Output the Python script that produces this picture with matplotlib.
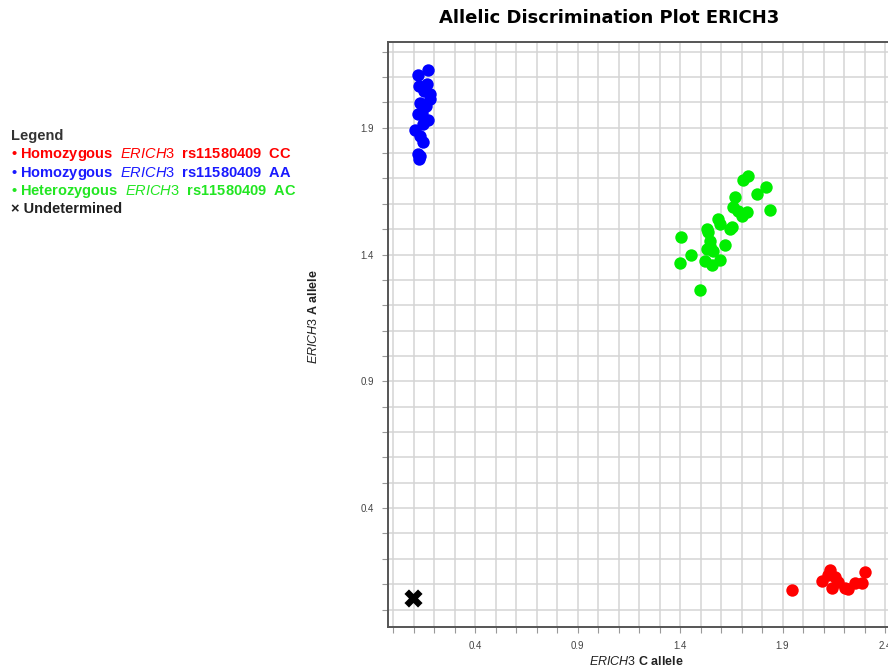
import matplotlib
matplotlib.use("Agg")
import matplotlib.pyplot as plt
from matplotlib.ticker import FixedLocator, MultipleLocator

plt.rcParams['font.family'] = ['Liberation Sans', 'DejaVu Sans']
plt.rcParams['mathtext.fontset'] = 'custom'
plt.rcParams['mathtext.rm'] = 'Liberation Sans'
plt.rcParams['mathtext.it'] = 'Liberation Sans:italic'
plt.rcParams['mathtext.bf'] = 'Liberation Sans:bold'

# genotype clusters (C allele, A allele)
cc_x = [1.945, 2.091, 2.132, 2.123, 2.140, 2.156, 2.172, 2.205, 2.221, 2.254, 2.286, 2.302]
cc_y = [0.077, 0.112, 0.156, 0.136, 0.086, 0.129, 0.109, 0.086, 0.080, 0.106, 0.103, 0.149]

aa_x = [0.169, 0.123, 0.164, 0.128, 0.180, 0.132, 0.161, 0.140, 0.169, 0.123, 0.145,
        0.107, 0.132, 0.148, 0.120, 0.128, 0.132, 0.180, 0.151]
aa_y = [2.128, 2.107, 2.072, 2.065, 2.013, 1.999, 1.986, 1.960, 1.930, 1.954, 1.914,
        1.892, 1.868, 1.842, 1.796, 1.776, 1.789, 2.033, 2.045]

ac_x = [1.733, 1.709, 1.820, 1.774, 1.668, 1.839, 1.660, 1.684, 1.725, 1.701, 1.587,
        1.595, 1.652, 1.644, 1.530, 1.538, 1.403, 1.546, 1.620, 1.530, 1.546, 1.452,
        1.562, 1.400, 1.522, 1.595, 1.555, 1.498]
ac_y = [1.711, 1.694, 1.667, 1.639, 1.625, 1.576, 1.586, 1.573, 1.566, 1.553, 1.540,
        1.520, 1.507, 1.501, 1.501, 1.487, 1.470, 1.455, 1.436, 1.422, 1.435, 1.400,
        1.415, 1.365, 1.376, 1.380, 1.360, 1.262]

und_x = [0.096]
und_y = [0.044]

major_ticks = [0.4, 0.9, 1.4, 1.9, 2.4]

legend_lines = [
    ("Legend", "#333333"),
    (r"• Homozygous  $\mathit{ERICH3}$  rs11580409  CC", "#ff0000"),
    (r"• Homozygous  $\mathit{ERICH3}$  rs11580409  AA", "#1a1aff"),
    (r"• Heterozygous  $\mathit{ERICH3}$  rs11580409  AC", "#22e622"),
    ("× Undetermined", "#222222"),
]

fig = plt.figure(figsize=(8.88, 6.72), dpi=100)
ax = fig.add_axes([0.4364, 0.0665, 0.5718, 0.8717])

ax.scatter(cc_x, cc_y, s=80, color="#ff0000", zorder=3, linewidths=0)
ax.scatter(aa_x, aa_y, s=80, color="#0000ff", zorder=3, linewidths=0)
ax.scatter(ac_x, ac_y, s=80, color="#00ee00", zorder=3, linewidths=0)
ax.scatter(und_x, und_y, s=170, marker="X", color="black", zorder=3, linewidths=0)

ax.set_xlim(-0.027, 2.45)
ax.set_ylim(-0.07, 2.24)

for axis in (ax.xaxis, ax.yaxis):
    axis.set_major_locator(FixedLocator(major_ticks))
    axis.set_minor_locator(MultipleLocator(0.1))
ax.set_xticklabels([str(t) for t in major_ticks])
ax.set_yticklabels([str(t) for t in major_ticks])
ax.tick_params(which="both", direction="out", length=4, width=0.8, color="#999999",
               labelsize=7, labelcolor="#444444", pad=6)
ax.grid(which="both", color="#d4d4d4", linewidth=1.1)
ax.set_axisbelow(True)

for side in ("left", "bottom", "top"):
    ax.spines[side].set_color("#555555")
    ax.spines[side].set_linewidth(1.4)
ax.spines["right"].set_visible(False)

ax.set_xlabel(r"$\mathit{ERICH3}$ C allele", fontsize=9, fontweight="bold", color="#222222")
ax.set_ylabel(r"$\mathit{ERICH3}$ A allele", fontsize=9, fontweight="bold", color="#222222")
ax.xaxis.set_label_coords(0.49, -0.047)
ax.yaxis.set_label_coords(-0.133, 0.53)

fig.text(0.686, 0.973, "Allelic Discrimination Plot ERICH3", ha="center", va="center",
         fontsize=13, fontweight="bold", family="DejaVu Sans")

for i, (txt, col) in enumerate(legend_lines):
    fig.text(0.012, 1 - (140 + 18.3 * i) / 672, txt, color=col, fontsize=10.5,
             fontweight="bold", ha="left", va="baseline")

fig.savefig("out.png", dpi=100)
